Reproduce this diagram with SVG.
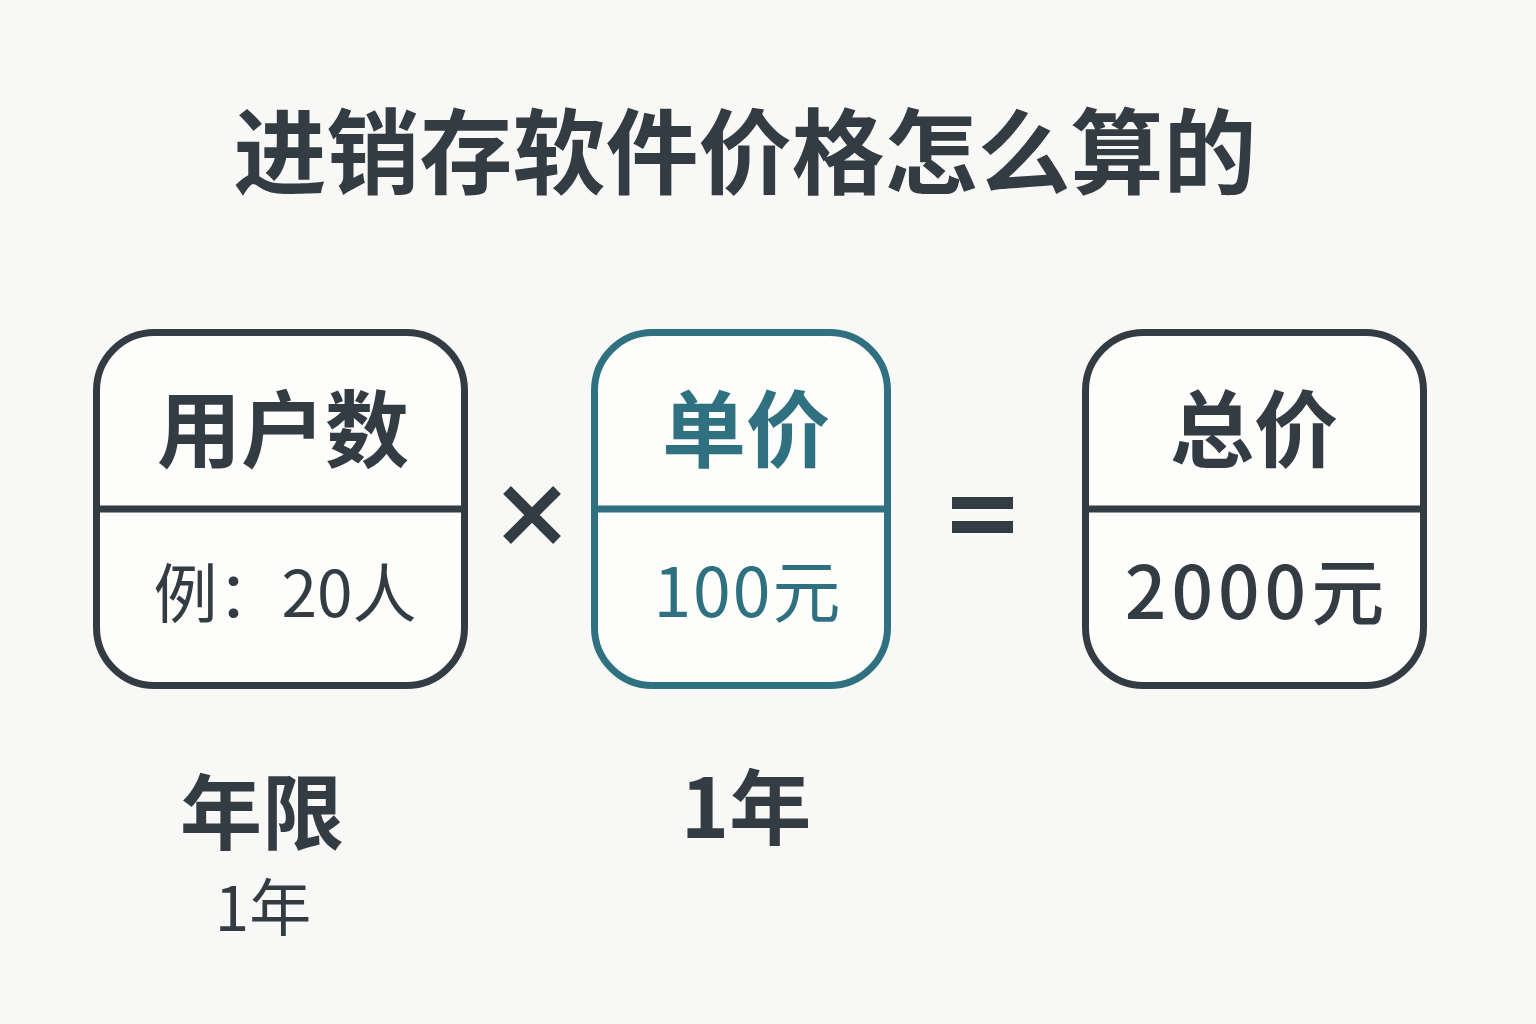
<svg xmlns="http://www.w3.org/2000/svg" width="1536" height="1024" viewBox="0 0 1536 1024">
<style>
.t{font-family:"Noto Sans CJK SC","Noto Sans",sans-serif;fill:#333c43;text-anchor:middle}
.b{font-weight:700}
.m{font-weight:500}
.r{font-weight:400}
.teal{fill:#2f7181}
.box{fill:#fdfdfc;stroke:#333c43;stroke-width:7}
.boxT{fill:#fdfdfc;stroke:#2f7181;stroke-width:7}
.div{stroke:#333c43;stroke-width:7}
.divT{stroke:#2f7181;stroke-width:7}
</style>
<rect width="1536" height="1024" fill="#f8f8f6"/>
<text class="t b" x="745" y="187" font-size="93">进销存软件价格怎么算的</text>
<g id="node-users">
<rect class="box" x="96.5" y="332.5" width="368" height="353" rx="58"/>
<line class="div" x1="96.5" y1="509" x2="464.5" y2="509"/>
<text class="t b" x="283" y="461" font-size="84">用户数</text>
<text class="t r" x="285" y="617" font-size="64">例：20人</text>
</g>
<g id="node-price">
<rect class="boxT" x="594.5" y="332.5" width="293" height="353" rx="58"/>
<line class="divT" x1="594.5" y1="509" x2="887.5" y2="509"/>
<text class="t b teal" x="746" y="461" font-size="84">单价</text>
<text class="t r teal" x="748" y="617" font-size="68" letter-spacing="2">100元</text>
</g>
<g id="node-total">
<rect class="box" x="1085.5" y="332.5" width="338" height="353" rx="58"/>
<line class="div" x1="1085.5" y1="509" x2="1423.5" y2="509"/>
<text class="t b" x="1254" y="461" font-size="84">总价</text>
<text class="t m" x="1257" y="619" font-size="73" letter-spacing="5">2000元</text>
</g>
<g id="operators">
<path d="M507 490 L557 540 M557 490 L507 540" stroke="#333c43" stroke-width="11" fill="none"/>
<rect x="952" y="497" width="61" height="12" fill="#333c43"/>
<rect x="952" y="521" width="61" height="12" fill="#333c43"/>
</g>
<g id="node-years">
<text class="t b" x="262" y="843" font-size="82">年限</text>
<text class="t r" x="263" y="931" font-size="62">1年</text>
</g>
<g id="node-year-value">
<text class="t b" x="746" y="838" font-size="82">1年</text>
</g>
<g id="connectors"></g>
</svg>
